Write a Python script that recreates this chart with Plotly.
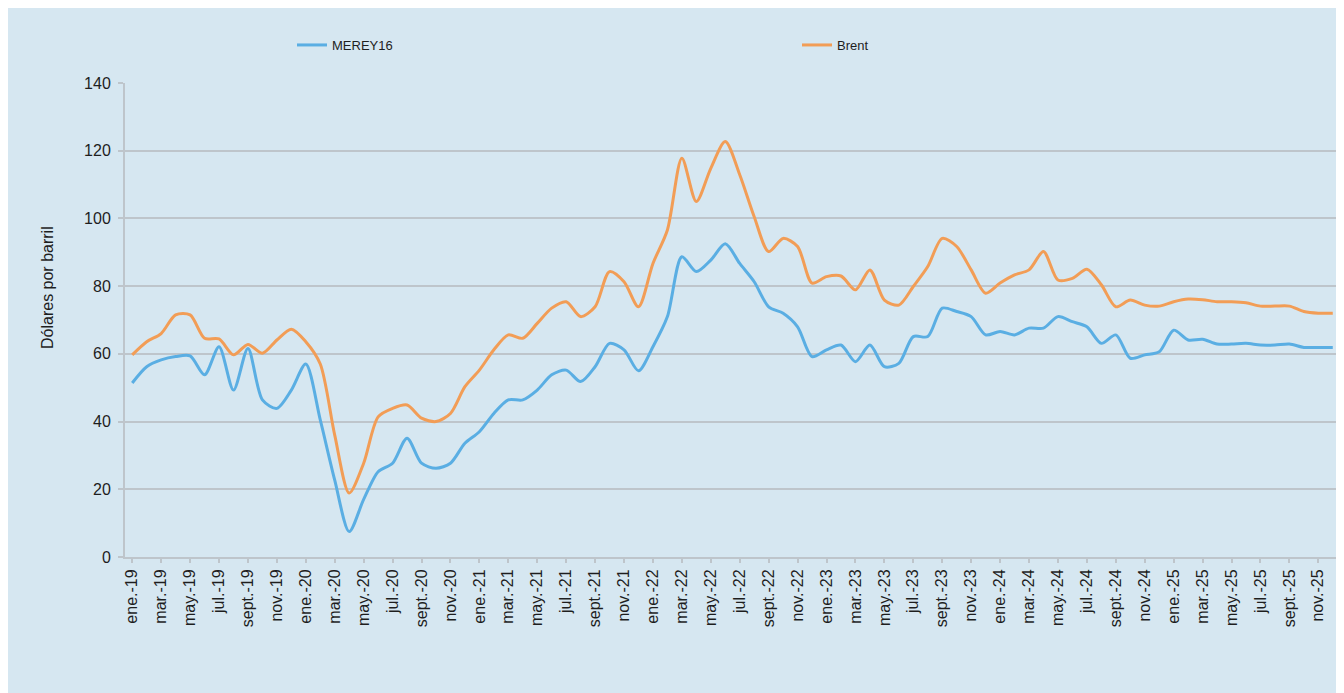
import plotly.graph_objects as go

months = ["ene.", "feb.", "mar.", "abr.", "may.", "jun.", "jul.", "ago.", "sept.", "oct.", "nov.", "dic."]
years = ["19", "20", "21", "22", "23", "24", "25"]
categories = [f"{m}-{y}" for y in years for m in months]

brent = [
    59.7, 63.6, 66.0, 71.5, 71.5, 64.6, 64.4, 59.7, 62.8, 60.2, 64.1, 67.3,
    63.6, 57.0, 36.0, 18.9, 27.7, 41.4, 43.9, 44.9, 41.0, 40.0, 42.4, 50.3,
    55.2, 61.2, 65.6, 64.6, 69.0, 73.5, 75.4, 71.0, 73.9, 84.3, 81.3, 73.9,
    86.7, 96.6, 117.8, 105.0, 114.8, 122.7, 112.9, 100.5, 90.2, 94.1, 91.7, 80.9,
    82.8, 83.0, 78.9, 84.8, 75.9, 74.4, 79.9, 85.8, 94.1, 91.7, 84.8, 77.9,
    80.9, 83.3, 84.8, 90.2, 81.8, 82.3, 85.0, 80.4, 73.9, 75.9, 74.4, 74.1,
    75.4, 76.2, 76.0, 75.4, 75.4, 75.1, 74.1, 74.1, 74.1, 72.5, 72.0, 72.0,
]

merey16 = [
    51.4, 56.2, 58.2, 59.2, 59.4, 53.8, 62.1, 49.3, 61.6, 46.4, 43.9, 49.3,
    57.0, 40.5, 22.7, 7.5, 17.0, 25.2, 27.7, 35.1, 27.7, 26.2, 27.7, 33.6,
    37.0, 42.4, 46.4, 46.4, 49.3, 53.8, 55.2, 51.8, 56.2, 63.1, 61.2, 55.0,
    62.1, 71.0, 88.7, 84.3, 87.7, 92.5, 86.7, 81.3, 73.9, 72.0, 68.0, 59.2,
    61.2, 62.6, 57.7, 62.6, 56.2, 57.2, 65.1, 65.1, 73.5, 72.5, 71.0, 65.6,
    66.6, 65.6, 67.6, 67.6, 71.0, 69.5, 68.0, 63.1, 65.6, 58.7, 59.7, 60.6,
    67.0, 64.1, 64.3, 62.9, 62.9, 63.1, 62.6, 62.6, 62.9, 61.9, 61.9, 61.9,
]

series_names = ["MEREY16", "Brent"]
y_title = "Dólares por barril"

x_idx = list(range(len(categories)))
tick_idx = x_idx[::2]
tick_text = categories[::2]

BG = "#D6E7F1"
GRID = "#BEC5CB"
TXT = "#1E1E1E"
OFF = 8  # page body margin
W, H = 1344 - OFF, 693 - OFF
ML, MR, MT, MB = 125 - OFF, 4, 83 - OFF, 136
PW, PH = W - ML - MR, H - MT - MB


def px_x(p):
    return (p - OFF - ML) / PW


def px_y(p):
    return (H - MB - (p - OFF)) / PH


fig = go.Figure()
fig.add_trace(go.Scatter(x=x_idx, y=merey16, name=series_names[0], mode="lines",
                         legend="legend",
                         line=dict(color="#5AAEE3", width=3, shape="spline", smoothing=0.8)))
fig.add_trace(go.Scatter(x=x_idx, y=brent, name=series_names[1], mode="lines",
                         legend="legend2",
                         line=dict(color="#F29D56", width=3, shape="spline", smoothing=0.8)))

legend_common = dict(orientation="h", yanchor="middle", y=px_y(45),
                     bgcolor="rgba(0,0,0,0)", font=dict(size=13, color=TXT), xanchor="left")

fig.update_layout(
    width=W, height=H,
    paper_bgcolor=BG, plot_bgcolor=BG,
    margin=dict(l=ML, r=MR, t=MT, b=MB, autoexpand=False),
    font=dict(family="Liberation Sans, Arial, sans-serif", size=12, color=TXT),
    showlegend=True,
    legend=dict(x=px_x(292), **legend_common),
    legend2=dict(x=px_x(797), **legend_common),
    annotations=[
        dict(text=y_title, xref="paper", yref="paper", x=px_x(47), y=px_y(288),
             textangle=-90, showarrow=False, font=dict(size=16, color=TXT),
             xanchor="center", yanchor="middle"),
    ],
)

fig.update_xaxes(range=[-0.5, len(categories) - 0.5], tickmode="array",
                 tickvals=tick_idx, ticktext=tick_text, tickangle=-90,
                 showgrid=False, zeroline=False, showline=True, linecolor=GRID, linewidth=2,
                 ticks="outside", ticklen=4, tickcolor=GRID, tickwidth=2,
                 tickfont=dict(size=16, color=TXT), automargin=False)
fig.update_yaxes(range=[0, 140], dtick=20, showgrid=True, gridcolor=GRID, gridwidth=2,
                 zeroline=False, showline=True, linecolor=GRID, linewidth=2,
                 ticks="outside", ticklen=5, tickcolor=GRID, tickwidth=2,
                 ticklabelstandoff=4,
                 tickfont=dict(size=16, color=TXT), automargin=False)

fig.write_html("out.html")
